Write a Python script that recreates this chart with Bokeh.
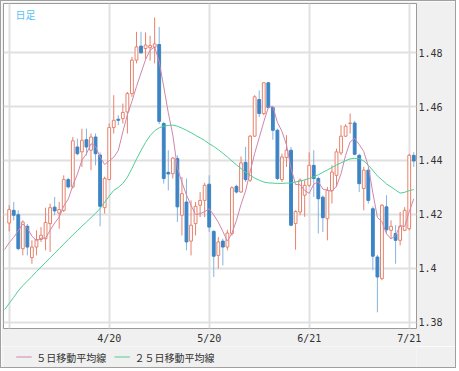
from bokeh.plotting import figure
from bokeh.layouts import column
from bokeh.models import Range1d, FixedTicker, Label, ColumnDataSource
from bokeh.embed import file_html
from bokeh.resources import INLINE

# ---- data (daily candles) ----
opens = [1.4168, 1.4215, 1.4199, 1.4073, 1.4156, 1.4040, 1.4079, 1.4107, 1.4110, 1.4166,
         1.4227, 1.4205, 1.4215, 1.4329, 1.4302, 1.4450, 1.4432, 1.4477, 1.4438, 1.4487,
         1.4420, 1.4225, 1.4329, 1.4522, 1.4553, 1.4555, 1.4580, 1.4648, 1.4772, 1.4824,
         1.4815, 1.4818, 1.4820, 1.4830, 1.4537, 1.4356, 1.4351, 1.4407, 1.4197, 1.4246,
         1.4101, 1.4166, 1.4234, 1.4252, 1.4312, 1.4137, 1.4048, 1.4101, 1.4079, 1.4129,
         1.4304, 1.4283, 1.4393, 1.4327, 1.4490, 1.4626, 1.4574, 1.4688, 1.4596, 1.4512,
         1.4329, 1.4411, 1.4438, 1.4166, 1.4209, 1.4271, 1.4308, 1.4382, 1.4333, 1.4264,
         1.4184, 1.4289, 1.4345, 1.4428, 1.4490, 1.4537, 1.4539, 1.4419, 1.4296, 1.4364,
         1.4221, 1.4042, 1.3962, 1.4228, 1.4141, 1.4129, 1.4104, 1.4141, 1.4147, 1.4419]
highs = [1.4234, 1.4246, 1.4215, 1.4178, 1.4165, 1.4104, 1.4141, 1.4153, 1.4225, 1.4240,
         1.4265, 1.4246, 1.4345, 1.4336, 1.4487, 1.4481, 1.4518, 1.4518, 1.4500, 1.4500,
         1.4430, 1.4340, 1.4537, 1.4642, 1.4568, 1.4611, 1.4654, 1.4784, 1.4877, 1.4877,
         1.4875, 1.4862, 1.4930, 1.4895, 1.4543, 1.4438, 1.4413, 1.4419, 1.4339, 1.4333,
         1.4252, 1.4246, 1.4283, 1.4317, 1.4345, 1.4141, 1.4116, 1.4110, 1.4143, 1.4304,
         1.4310, 1.4415, 1.4450, 1.4494, 1.4642, 1.4660, 1.4691, 1.4691, 1.4600, 1.4518,
         1.4425, 1.4494, 1.4450, 1.4215, 1.4333, 1.4327, 1.4430, 1.4438, 1.4340, 1.4270,
         1.4302, 1.4382, 1.4444, 1.4531, 1.4534, 1.4574, 1.4547, 1.4425, 1.4376, 1.4370,
         1.4230, 1.4050, 1.4238, 1.4271, 1.4178, 1.4160, 1.4209, 1.4227, 1.4425, 1.4431]
lows = [1.4137, 1.4178, 1.4067, 1.4048, 1.4048, 1.4017, 1.4048, 1.4098, 1.4067, 1.4061,
        1.4197, 1.4147, 1.4209, 1.4296, 1.4296, 1.4419, 1.4376, 1.4419, 1.4364, 1.4382,
        1.4156, 1.4203, 1.4327, 1.4500, 1.4531, 1.4537, 1.4500, 1.4636, 1.4760, 1.4796,
        1.4775, 1.4770, 1.4760, 1.4535, 1.4314, 1.4289, 1.4333, 1.4172, 1.4122, 1.4067,
        1.4048, 1.4122, 1.4190, 1.4190, 1.4135, 1.3968, 1.3999, 1.4011, 1.4067, 1.4122,
        1.4278, 1.4280, 1.4320, 1.4320, 1.4487, 1.4561, 1.4568, 1.4593, 1.4477, 1.4327,
        1.4320, 1.4376, 1.4156, 1.4069, 1.4197, 1.4191, 1.4302, 1.4265, 1.4129, 1.4135,
        1.4104, 1.4240, 1.4302, 1.4420, 1.4487, 1.4500, 1.4419, 1.4283, 1.4215, 1.4240,
        1.3993, 1.3837, 1.3956, 1.4129, 1.4110, 1.4017, 1.4085, 1.4138, 1.4141, 1.4376]
closes = [1.4218, 1.4197, 1.4073, 1.4172, 1.4079, 1.4079, 1.4107, 1.4123, 1.4170, 1.4225,
          1.4213, 1.4218, 1.4329, 1.4302, 1.4473, 1.4425, 1.4475, 1.4450, 1.4487, 1.4425,
          1.4230, 1.4333, 1.4522, 1.4549, 1.4549, 1.4578, 1.4648, 1.4772, 1.4821, 1.4799,
          1.4828, 1.4826, 1.4832, 1.4545, 1.4333, 1.4350, 1.4409, 1.4228, 1.4277, 1.4098,
          1.4160, 1.4230, 1.4252, 1.4308, 1.4153, 1.4045, 1.4098, 1.4079, 1.4131, 1.4299,
          1.4283, 1.4391, 1.4329, 1.4490, 1.4636, 1.4574, 1.4688, 1.4596, 1.4512, 1.4333,
          1.4413, 1.4438, 1.4160, 1.4211, 1.4327, 1.4308, 1.4382, 1.4333, 1.4258, 1.4188,
          1.4289, 1.4357, 1.4432, 1.4490, 1.4527, 1.4539, 1.4423, 1.4314, 1.4364, 1.4252,
          1.4045, 1.3968, 1.4234, 1.4143, 1.4156, 1.4104, 1.4156, 1.4215, 1.4419, 1.4398]

# moving averages, one value per day, starting one day before the first candle
ma5 = [1.4070, 1.4095, 1.4115, 1.4140, 1.4165,
       1.4148, 1.4120, 1.4102, 1.4112, 1.4112, 1.4141, 1.4168, 1.4190, 1.4231, 1.4257,
       1.4307, 1.4349, 1.4401, 1.4425, 1.4462, 1.4452, 1.4413, 1.4385, 1.4399, 1.4412,
       1.4437, 1.4506, 1.4569, 1.4619, 1.4674, 1.4724, 1.4774, 1.4809, 1.4821, 1.4766,
       1.4673, 1.4577, 1.4494, 1.4373, 1.4319, 1.4272, 1.4234, 1.4199, 1.4203, 1.4210,
       1.4221, 1.4198, 1.4171, 1.4137, 1.4101, 1.4130, 1.4178, 1.4237, 1.4287, 1.4358,
       1.4426, 1.4484, 1.4543, 1.4597, 1.4601, 1.4541, 1.4508, 1.4458, 1.4371, 1.4311,
       1.4310, 1.4289, 1.4278, 1.4312, 1.4322, 1.4294, 1.4290, 1.4285, 1.4305, 1.4351,
       1.4419, 1.4469, 1.4482, 1.4459, 1.4433, 1.4378, 1.4280, 1.4189, 1.4173, 1.4128,
       1.4109, 1.4121, 1.4159, 1.4155, 1.4210, 1.4258]
ma25 = [1.3847, 1.3870, 1.3893, 1.3916, 1.3936,
        1.3953, 1.3970, 1.3988, 1.4005, 1.4022, 1.4039, 1.4056, 1.4073, 1.4090, 1.4107,
        1.4124, 1.4140, 1.4156, 1.4172, 1.4188, 1.4204, 1.4222, 1.4245, 1.4268, 1.4289,
        1.4300, 1.4315, 1.4338, 1.4370, 1.4405, 1.4437, 1.4467, 1.4492, 1.4510, 1.4521,
        1.4527, 1.4530, 1.4531, 1.4527, 1.4520, 1.4512, 1.4503, 1.4493, 1.4484, 1.4474,
        1.4462, 1.4452, 1.4440, 1.4427, 1.4413, 1.4398, 1.4384, 1.4370, 1.4356, 1.4345,
        1.4335, 1.4327, 1.4320, 1.4317, 1.4316, 1.4315, 1.4315, 1.4316, 1.4317, 1.4320,
        1.4324, 1.4328, 1.4333, 1.4339, 1.4347, 1.4356, 1.4365, 1.4374, 1.4383, 1.4391,
        1.4399, 1.4406, 1.4408, 1.4407, 1.4398, 1.4382, 1.4363, 1.4343, 1.4328, 1.4313,
        1.4302, 1.4290, 1.4279, 1.4282, 1.4288, 1.4292]

x_tick_days = [0, 22, 44, 66, 88]
x_tick_labels = ["", "4/20", "5/20", "6/21", "7/21"]
y_ticks = [1.38, 1.40, 1.42, 1.44, 1.46, 1.48]
y_tick_labels = ["1.38", "1.4", "1.42", "1.44", "1.46", "1.48"]
series_names = ["５日移動平均線", "２５日移動平均線"]
title_text = "日足"

# ---- styles ----
UP = "#e8826a"
DOWN = "#3d84c4"
DOWN_WICK = "#86b3de"
MA5_COLOR = "#cf86ad"
MA25_COLOR = "#4fcd95"
PANEL = "#f0f0f0"
MONO = "DejaVu Sans Mono"
CJK = "Noto Sans CJK JP"

n = len(closes)
xs = list(range(n))
ma_x = [-1] + xs

up_idx = [i for i in xs if closes[i] >= opens[i]]
dn_idx = [i for i in xs if closes[i] < opens[i]]

def pick(idx):
    return ColumnDataSource(dict(
        x=[xs[i] for i in idx],
        high=[highs[i] for i in idx],
        low=[lows[i] for i in idx],
        top=[max(opens[i], closes[i]) for i in idx],
        bottom=[min(opens[i], closes[i]) for i in idx],
    ))

src_up = pick(up_idx)
src_dn = pick(dn_idx)

p = figure(width=454, height=345, output_backend="svg", toolbar_location=None,
           x_range=Range1d(-1.25, 89.6), y_range=Range1d(1.3777, 1.4982),
           y_axis_location="right",
           min_border_left=2, min_border_top=2, min_border_right=39, min_border_bottom=17)

p.background_fill_color = "white"
p.border_fill_color = PANEL
p.outline_line_color = "#9a9a9a"
p.outline_line_width = 1

p.xgrid.ticker = FixedTicker(ticks=x_tick_days)
p.ygrid.ticker = FixedTicker(ticks=y_ticks)
for g in (p.xgrid, p.ygrid):
    g.grid_line_color = "#e0e0e0"
    g.grid_line_width = 2

# axes
p.xaxis.ticker = FixedTicker(ticks=x_tick_days)
p.xaxis.major_label_overrides = {t: l for t, l in zip(x_tick_days, x_tick_labels)}
p.yaxis.ticker = FixedTicker(ticks=y_ticks)
p.yaxis.major_label_overrides = {t: l for t, l in zip(y_ticks, y_tick_labels)}
for ax in (p.xaxis, p.yaxis):
    ax.axis_line_color = None
    ax.major_tick_line_color = None
    ax.minor_tick_line_color = None
    ax.major_tick_out = 0
    ax.major_tick_in = 0
    ax.major_label_text_font = MONO
    ax.major_label_text_font_size = "10px"
    ax.major_label_text_color = "#333333"
p.xaxis.major_label_standoff = 4
p.yaxis.major_label_standoff = 2

# candles
p.segment(x0="x", y0="low", x1="x", y1="high", source=src_dn, line_color=DOWN_WICK, line_width=1)
p.segment(x0="x", y0="low", x1="x", y1="high", source=src_up, line_color=UP, line_width=1)
p.vbar(x="x", width=0.62, top="top", bottom="bottom", source=src_dn,
       fill_color=DOWN, line_color=DOWN, line_width=1)
p.vbar(x="x", width=0.62, top="top", bottom="bottom", source=src_up,
       fill_color="white", line_color=UP, line_width=1)

# moving averages
p.line(ma_x, ma5, line_color=MA5_COLOR, line_width=1)
p.line(ma_x, ma25, line_color=MA25_COLOR, line_width=1)

p.add_layout(Label(x=1.4, y=1.4968, text=title_text, text_font=CJK,
                   text_font_size="10px", text_color="#55c3ef", text_baseline="top"))

# ---- legend strip below the chart (pixel-like coordinates) ----
lg = figure(width=454, height=21, output_backend="svg", toolbar_location=None,
            x_range=Range1d(0, 454), y_range=Range1d(0, 21),
            x_axis_type=None, y_axis_type=None, min_border=0)
lg.background_fill_color = PANEL
lg.border_fill_color = PANEL
lg.outline_line_color = None
lg.xgrid.visible = False
lg.ygrid.visible = False

key_x0 = [14, 122]          # swatch starts
key_len = 17
key_gap = 5
key_y = 10.5
key_colors = [MA5_COLOR, MA25_COLOR]
lg.segment(x0=key_x0, y0=[key_y] * 2, x1=[k + key_len for k in key_x0], y1=[key_y] * 2,
           line_color=key_colors, line_width=1)
for kx, name in zip(key_x0, series_names):
    lg.add_layout(Label(x=kx + key_len + key_gap, y=key_y, text=name, text_font=CJK,
                        text_font_size="10px", text_color="#333333",
                        text_baseline="middle", text_align="left"))

layout = column(p, lg, spacing=0, styles={"border": "1px solid #a0a0a0"})
open("out.html", "w").write(file_html(layout, INLINE))
